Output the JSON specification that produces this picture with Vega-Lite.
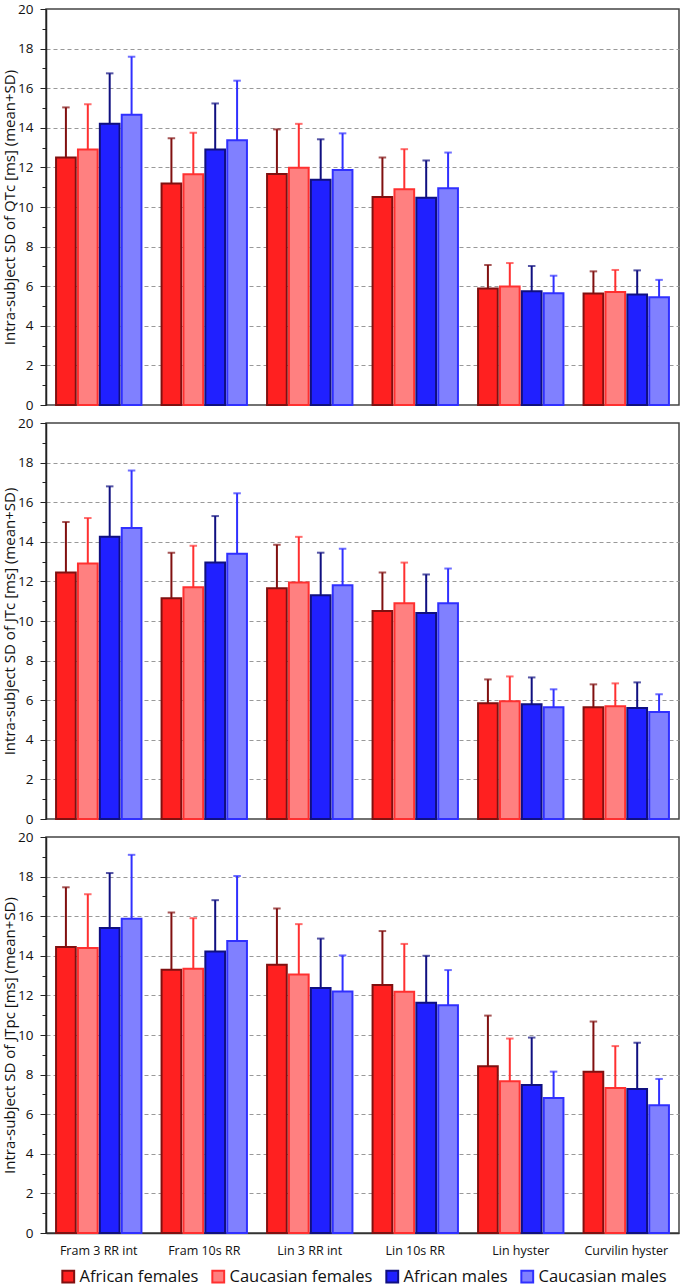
{
  "$schema": "https://vega.github.io/schema/vega-lite/v6.json",
  "padding": {"left": 1, "top": 1, "right": 2, "bottom": 0},
  "background": "white",
  "config": {
    "font": "Open Sans",
    "view": {"stroke": "#444", "strokeWidth": 1.5},
    "concat": {"spacing": 2},
    "axisY": {
      "titleFontSize": 15, "titleFontWeight": "normal", "titleColor": "#111", "titlePadding": 0,
      "labelFontSize": 13.5, "labelColor": "#111", "labelPadding": 7, "labelOverlap": false,
      "tickColor": "#222", "domainColor": "#222", "domainWidth": 1.5, "tickCount": 60, "format": "d",
      "grid": true, "gridColor": "#999", "gridDash": [4, 3], "gridWidth": 1
    },
    "axisX": {"domainColor": "#333", "domainWidth": 1.5, "ticks": false, "labelFontSize": 12.5, "labelColor": "#111", "labelPadding": 11, "labelAngle": 0, "grid": false},
    "legend": {"title": null, "orient": "bottom", "direction": "horizontal", "labelFontSize": 16.5, "labelColor": "#111", "symbolType": "square", "symbolSize": 140, "symbolStrokeWidth": 2, "columnPadding": 9, "labelOffset": 3, "offset": -4, "padding": 14}
  },
  "datasets": {
    "t": [
      {"panel":"QTc","method":"Fram 3 RR int","group":"African females","mean":12.5,"upper":15.03},
      {"panel":"QTc","method":"Fram 3 RR int","group":"Caucasian females","mean":12.91,"upper":15.19},
      {"panel":"QTc","method":"Fram 3 RR int","group":"African males","mean":14.2,"upper":16.75},
      {"panel":"QTc","method":"Fram 3 RR int","group":"Caucasian males","mean":14.66,"upper":17.59},
      {"panel":"QTc","method":"Fram 10s RR","group":"African females","mean":11.19,"upper":13.47},
      {"panel":"QTc","method":"Fram 10s RR","group":"Caucasian females","mean":11.66,"upper":13.75},
      {"panel":"QTc","method":"Fram 10s RR","group":"African males","mean":12.91,"upper":15.23},
      {"panel":"QTc","method":"Fram 10s RR","group":"Caucasian males","mean":13.37,"upper":16.38},
      {"panel":"QTc","method":"Lin 3 RR int","group":"African females","mean":11.67,"upper":13.92},
      {"panel":"QTc","method":"Lin 3 RR int","group":"Caucasian females","mean":11.98,"upper":14.2},
      {"panel":"QTc","method":"Lin 3 RR int","group":"African males","mean":11.37,"upper":13.42},
      {"panel":"QTc","method":"Lin 3 RR int","group":"Caucasian males","mean":11.87,"upper":13.72},
      {"panel":"QTc","method":"Lin 10s RR","group":"African females","mean":10.5,"upper":12.5},
      {"panel":"QTc","method":"Lin 10s RR","group":"Caucasian females","mean":10.9,"upper":12.92},
      {"panel":"QTc","method":"Lin 10s RR","group":"African males","mean":10.47,"upper":12.35},
      {"panel":"QTc","method":"Lin 10s RR","group":"Caucasian males","mean":10.95,"upper":12.75},
      {"panel":"QTc","method":"Lin hyster","group":"African females","mean":5.88,"upper":7.07},
      {"panel":"QTc","method":"Lin hyster","group":"Caucasian females","mean":5.98,"upper":7.17},
      {"panel":"QTc","method":"Lin hyster","group":"African males","mean":5.74,"upper":7.02},
      {"panel":"QTc","method":"Lin hyster","group":"Caucasian males","mean":5.64,"upper":6.53},
      {"panel":"QTc","method":"Curvilin hyster","group":"African females","mean":5.63,"upper":6.75},
      {"panel":"QTc","method":"Curvilin hyster","group":"Caucasian females","mean":5.71,"upper":6.82},
      {"panel":"QTc","method":"Curvilin hyster","group":"African males","mean":5.58,"upper":6.8},
      {"panel":"QTc","method":"Curvilin hyster","group":"Caucasian males","mean":5.44,"upper":6.32},

      {"panel":"JTc","method":"Fram 3 RR int","group":"African females","mean":12.45,"upper":15.0},
      {"panel":"JTc","method":"Fram 3 RR int","group":"Caucasian females","mean":12.9,"upper":15.2},
      {"panel":"JTc","method":"Fram 3 RR int","group":"African males","mean":14.25,"upper":16.8},
      {"panel":"JTc","method":"Fram 3 RR int","group":"Caucasian males","mean":14.7,"upper":17.6},
      {"panel":"JTc","method":"Fram 10s RR","group":"African females","mean":11.15,"upper":13.45},
      {"panel":"JTc","method":"Fram 10s RR","group":"Caucasian females","mean":11.7,"upper":13.8},
      {"panel":"JTc","method":"Fram 10s RR","group":"African males","mean":12.95,"upper":15.3},
      {"panel":"JTc","method":"Fram 10s RR","group":"Caucasian males","mean":13.4,"upper":16.45},
      {"panel":"JTc","method":"Lin 3 RR int","group":"African females","mean":11.65,"upper":13.85},
      {"panel":"JTc","method":"Lin 3 RR int","group":"Caucasian females","mean":11.95,"upper":14.25},
      {"panel":"JTc","method":"Lin 3 RR int","group":"African males","mean":11.3,"upper":13.45},
      {"panel":"JTc","method":"Lin 3 RR int","group":"Caucasian males","mean":11.8,"upper":13.65},
      {"panel":"JTc","method":"Lin 10s RR","group":"African females","mean":10.5,"upper":12.45},
      {"panel":"JTc","method":"Lin 10s RR","group":"Caucasian females","mean":10.9,"upper":12.95},
      {"panel":"JTc","method":"Lin 10s RR","group":"African males","mean":10.4,"upper":12.35},
      {"panel":"JTc","method":"Lin 10s RR","group":"Caucasian males","mean":10.9,"upper":12.65},
      {"panel":"JTc","method":"Lin hyster","group":"African females","mean":5.85,"upper":7.05},
      {"panel":"JTc","method":"Lin hyster","group":"Caucasian females","mean":5.95,"upper":7.2},
      {"panel":"JTc","method":"Lin hyster","group":"African males","mean":5.8,"upper":7.15},
      {"panel":"JTc","method":"Lin hyster","group":"Caucasian males","mean":5.65,"upper":6.55},
      {"panel":"JTc","method":"Curvilin hyster","group":"African females","mean":5.65,"upper":6.8},
      {"panel":"JTc","method":"Curvilin hyster","group":"Caucasian females","mean":5.7,"upper":6.85},
      {"panel":"JTc","method":"Curvilin hyster","group":"African males","mean":5.6,"upper":6.9},
      {"panel":"JTc","method":"Curvilin hyster","group":"Caucasian males","mean":5.4,"upper":6.3},

      {"panel":"JTpc","method":"Fram 3 RR int","group":"African females","mean":14.45,"upper":17.46},
      {"panel":"JTpc","method":"Fram 3 RR int","group":"Caucasian females","mean":14.4,"upper":17.11},
      {"panel":"JTpc","method":"Fram 3 RR int","group":"African males","mean":15.4,"upper":18.18},
      {"panel":"JTpc","method":"Fram 3 RR int","group":"Caucasian males","mean":15.87,"upper":19.1},
      {"panel":"JTpc","method":"Fram 10s RR","group":"African females","mean":13.3,"upper":16.19},
      {"panel":"JTpc","method":"Fram 10s RR","group":"Caucasian females","mean":13.35,"upper":15.9},
      {"panel":"JTpc","method":"Fram 10s RR","group":"African males","mean":14.22,"upper":16.81},
      {"panel":"JTpc","method":"Fram 10s RR","group":"Caucasian males","mean":14.75,"upper":18.03},
      {"panel":"JTpc","method":"Lin 3 RR int","group":"African females","mean":13.55,"upper":16.39},
      {"panel":"JTpc","method":"Lin 3 RR int","group":"Caucasian females","mean":13.05,"upper":15.6},
      {"panel":"JTpc","method":"Lin 3 RR int","group":"African males","mean":12.38,"upper":14.87},
      {"panel":"JTpc","method":"Lin 3 RR int","group":"Caucasian males","mean":12.2,"upper":14.02},
      {"panel":"JTpc","method":"Lin 10s RR","group":"African females","mean":12.52,"upper":15.25},
      {"panel":"JTpc","method":"Lin 10s RR","group":"Caucasian females","mean":12.18,"upper":14.6},
      {"panel":"JTpc","method":"Lin 10s RR","group":"African males","mean":11.63,"upper":14.0},
      {"panel":"JTpc","method":"Lin 10s RR","group":"Caucasian males","mean":11.5,"upper":13.28},
      {"panel":"JTpc","method":"Lin hyster","group":"African females","mean":8.42,"upper":10.98},
      {"panel":"JTpc","method":"Lin hyster","group":"Caucasian females","mean":7.67,"upper":9.82},
      {"panel":"JTpc","method":"Lin hyster","group":"African males","mean":7.47,"upper":9.87},
      {"panel":"JTpc","method":"Lin hyster","group":"Caucasian males","mean":6.82,"upper":8.15},
      {"panel":"JTpc","method":"Curvilin hyster","group":"African females","mean":8.15,"upper":10.68},
      {"panel":"JTpc","method":"Curvilin hyster","group":"Caucasian females","mean":7.32,"upper":9.44},
      {"panel":"JTpc","method":"Curvilin hyster","group":"African males","mean":7.27,"upper":9.61},
      {"panel":"JTpc","method":"Curvilin hyster","group":"Caucasian males","mean":6.45,"upper":7.78}
    ]
  },
  "data": {"name": "t"},
  "resolve": {"scale": {"fill": "shared", "stroke": "shared"}, "legend": {"fill": "shared", "stroke": "shared"}},
  "vconcat": [
    {
      "width": 633, "height": 396,
      "transform": [{"filter": "datum.panel === 'QTc'"}],
      "encoding": {
        "x": {"field": "method", "type": "nominal", "sort": ["Fram 3 RR int","Fram 10s RR","Lin 3 RR int","Lin 10s RR","Lin hyster","Curvilin hyster"],
              "scale": {"paddingInner": 0.17, "paddingOuter": 0.085},
              "axis": null},
        "xOffset": {"field": "group", "type": "nominal", "sort": ["African females","Caucasian females","African males","Caucasian males"],
                    "scale": {"paddingInner": 0.1, "paddingOuter": 0.05}},
        "stroke": {"field": "group", "type": "nominal",
                   "scale": {"domain": ["African females","Caucasian females","African males","Caucasian males"], "range": ["#801010","#ff3030","#101080","#3030ff"]}}
      },
      "layer": [
        {"mark": {"type": "bar", "strokeWidth": 2},
         "encoding": {
           "y": {"field": "mean", "type": "quantitative", "scale": {"domain": [0, 20], "nice": false},
                 "axis": {"title": "Intra-subject SD of QTc [ms] (mean+SD)", "tickCount": 60, "format": "d",
                          "values": [0,0.5,1,1.5,2,2.5,3,3.5,4,4.5,5,5.5,6,6.5,7,7.5,8,8.5,9,9.5,10,10.5,11,11.5,12,12.5,13,13.5,14,14.5,15,15.5,16,16.5,17,17.5,18,18.5,19,19.5,20],
                          "labelExpr": "datum.value % 2 === 0 ? datum.label : ''",
                          "tickSize": {"condition": {"test": "datum.value % 2 === 0", "value": 6}, "value": 4},
                          "gridOpacity": {"condition": {"test": "datum.value % 2 === 0 && datum.value > 0 && datum.value < 20", "value": 1}, "value": 0}}},
           "fill": {"field": "group", "type": "nominal",
                    "scale": {"domain": ["African females","Caucasian females","African males","Caucasian males"], "range": ["#ff2020","#ff8080","#2020ff","#8080ff"]}}
         }},
        {"mark": {"type": "rule", "strokeWidth": 2},
         "encoding": {"y": {"field": "mean", "type": "quantitative"}, "y2": {"field": "upper"}}},
        {"mark": {"type": "tick", "filled": false, "thickness": 0.5, "size": 6, "strokeWidth": 1.5},
         "encoding": {"y": {"field": "upper", "type": "quantitative"}}}
      ]
    },
    {
      "width": 633, "height": 396,
      "transform": [{"filter": "datum.panel === 'JTc'"}],
      "encoding": {
        "x": {"field": "method", "type": "nominal", "sort": ["Fram 3 RR int","Fram 10s RR","Lin 3 RR int","Lin 10s RR","Lin hyster","Curvilin hyster"],
              "scale": {"paddingInner": 0.17, "paddingOuter": 0.085},
              "axis": null},
        "xOffset": {"field": "group", "type": "nominal", "sort": ["African females","Caucasian females","African males","Caucasian males"],
                    "scale": {"paddingInner": 0.1, "paddingOuter": 0.05}},
        "stroke": {"field": "group", "type": "nominal",
                   "scale": {"domain": ["African females","Caucasian females","African males","Caucasian males"], "range": ["#801010","#ff3030","#101080","#3030ff"]}}
      },
      "layer": [
        {"mark": {"type": "bar", "strokeWidth": 2},
         "encoding": {
           "y": {"field": "mean", "type": "quantitative", "scale": {"domain": [0, 20], "nice": false},
                 "axis": {"title": "Intra-subject SD of JTc [ms] (mean+SD)", "tickCount": 60, "format": "d",
                          "values": [0,0.5,1,1.5,2,2.5,3,3.5,4,4.5,5,5.5,6,6.5,7,7.5,8,8.5,9,9.5,10,10.5,11,11.5,12,12.5,13,13.5,14,14.5,15,15.5,16,16.5,17,17.5,18,18.5,19,19.5,20],
                          "labelExpr": "datum.value % 2 === 0 ? datum.label : ''",
                          "tickSize": {"condition": {"test": "datum.value % 2 === 0", "value": 6}, "value": 4},
                          "gridOpacity": {"condition": {"test": "datum.value % 2 === 0 && datum.value > 0 && datum.value < 20", "value": 1}, "value": 0}}},
           "fill": {"field": "group", "type": "nominal",
                    "scale": {"domain": ["African females","Caucasian females","African males","Caucasian males"], "range": ["#ff2020","#ff8080","#2020ff","#8080ff"]}}
         }},
        {"mark": {"type": "rule", "strokeWidth": 2},
         "encoding": {"y": {"field": "mean", "type": "quantitative"}, "y2": {"field": "upper"}}},
        {"mark": {"type": "tick", "filled": false, "thickness": 0.5, "size": 6, "strokeWidth": 1.5},
         "encoding": {"y": {"field": "upper", "type": "quantitative"}}}
      ]
    },
    {
      "width": 633, "height": 396,
      "transform": [{"filter": "datum.panel === 'JTpc'"}],
      "encoding": {
        "x": {"field": "method", "type": "nominal", "sort": ["Fram 3 RR int","Fram 10s RR","Lin 3 RR int","Lin 10s RR","Lin hyster","Curvilin hyster"],
              "scale": {"paddingInner": 0.17, "paddingOuter": 0.085},
              "axis": {"title": null}},
        "xOffset": {"field": "group", "type": "nominal", "sort": ["African females","Caucasian females","African males","Caucasian males"],
                    "scale": {"paddingInner": 0.1, "paddingOuter": 0.05}},
        "stroke": {"field": "group", "type": "nominal",
                   "scale": {"domain": ["African females","Caucasian females","African males","Caucasian males"], "range": ["#801010","#ff3030","#101080","#3030ff"]}}
      },
      "layer": [
        {"mark": {"type": "bar", "strokeWidth": 2},
         "encoding": {
           "y": {"field": "mean", "type": "quantitative", "scale": {"domain": [0, 20], "nice": false},
                 "axis": {"title": "Intra-subject SD of JTpc [ms] (mean+SD)", "tickCount": 60, "format": "d",
                          "values": [0,0.5,1,1.5,2,2.5,3,3.5,4,4.5,5,5.5,6,6.5,7,7.5,8,8.5,9,9.5,10,10.5,11,11.5,12,12.5,13,13.5,14,14.5,15,15.5,16,16.5,17,17.5,18,18.5,19,19.5,20],
                          "labelExpr": "datum.value % 2 === 0 ? datum.label : ''",
                          "tickSize": {"condition": {"test": "datum.value % 2 === 0", "value": 6}, "value": 4},
                          "gridOpacity": {"condition": {"test": "datum.value % 2 === 0 && datum.value > 0 && datum.value < 20", "value": 1}, "value": 0}}},
           "fill": {"field": "group", "type": "nominal",
                    "scale": {"domain": ["African females","Caucasian females","African males","Caucasian males"], "range": ["#ff2020","#ff8080","#2020ff","#8080ff"]}}
         }},
        {"mark": {"type": "rule", "strokeWidth": 2},
         "encoding": {"y": {"field": "mean", "type": "quantitative"}, "y2": {"field": "upper"}}},
        {"mark": {"type": "tick", "filled": false, "thickness": 0.5, "size": 6, "strokeWidth": 1.5},
         "encoding": {"y": {"field": "upper", "type": "quantitative"}}}
      ]
    }
  ]
}
